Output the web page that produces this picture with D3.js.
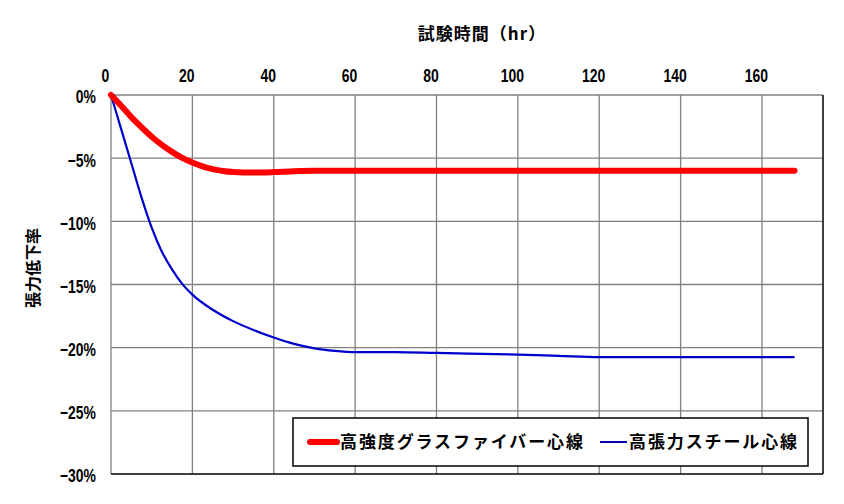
<!DOCTYPE html>
<html><head><meta charset="utf-8">
<script src="https://cdn.jsdelivr.net/npm/d3@7/dist/d3.min.js"></script>
<style>
body{margin:0;background:#fff;}
svg{display:block;}
.tick text{font-family:"Liberation Sans",Arial,sans-serif;font-size:17px;fill:#000;font-weight:bold;}
.jp{font-family:"Noto Sans CJK JP",sans-serif;font-weight:bold;fill:#000;}
</style></head>
<body>
<svg id="c" width="844" height="504"></svg>
<script>
const xTicks = [0,20,40,60,80,100,120,140,160];
const yTicks = [0,-5,-10,-15,-20,-25,-30];
const seriesNames = ["高強度グラスファイバー心線","高張力スチール心線"];
const xTitle = "試験時間（hr）";
const yTitle = "張力低下率";

const glassHours = [0,2.5,5,7.5,10,12.5,15,17.5,20,22.5,25,27.5,30,35,40,45,50,60,80,100,120,140,160,168];
const glassValues = [0,-0.85,-1.75,-2.55,-3.3,-3.95,-4.5,-4.98,-5.35,-5.65,-5.87,-6.02,-6.1,-6.14,-6.1,-6.03,-6.0,-6.0,-6.0,-6.0,-6.0,-6.0,-6.0,-6.0];
const steelHours = [0,2.5,5,7.5,10,12.5,15,17.5,20,25,30,35,40,45,50,55,60,70,80,100,110,120,140,168];
const steelValues = [0,-2.7,-5.4,-8.1,-10.5,-12.4,-13.8,-14.95,-15.8,-17.0,-17.9,-18.6,-19.2,-19.7,-20.05,-20.25,-20.35,-20.35,-20.42,-20.55,-20.65,-20.75,-20.75,-20.75];

const svg = d3.select("#c");
const L=111, R=823, T=95, B=474;
const x = d3.scaleLinear().domain([0,175]).range([L,R]);
const y = d3.scaleLinear().domain([0,-30]).range([T,B]);

// grid
const g = svg.append("g");
g.selectAll("line.v").data(xTicks.slice(1)).join("line")
  .attr("x1",d=>x(d)).attr("x2",d=>x(d)).attr("y1",T).attr("y2",B)
  .attr("stroke","#808080").attr("stroke-width",1.3);
g.selectAll("line.h").data(yTicks.slice(0,-1)).join("line")
  .attr("x1",L).attr("x2",R).attr("y1",d=>y(d)).attr("y2",d=>y(d))
  .attr("stroke","#808080").attr("stroke-width",1.3);
g.append("line").attr("x1",L).attr("x2",L).attr("y1",T).attr("y2",B).attr("stroke","#808080").attr("stroke-width",1.3);
g.append("line").attr("x1",L).attr("x2",R).attr("y1",B).attr("y2",B).attr("stroke","#000").attr("stroke-width",1.5);
g.append("line").attr("x1",R).attr("x2",R).attr("y1",T).attr("y2",B).attr("stroke","#000").attr("stroke-width",1.5);

// axes (labels only)
const xAxis = d3.axisTop(x).tickValues(xTicks).tickSize(0).tickPadding(0).tickFormat(d3.format("d"));
const xa = svg.append("g").attr("transform",`translate(-6,${T-13})`).call(xAxis);
xa.select(".domain").remove();
xa.selectAll(".tick text").attr("transform","scale(0.82,1.08)");
const yAxis = d3.axisLeft(y).tickValues(yTicks).tickSize(0).tickPadding(0).tickFormat(d=>(d<0?"−"+(-d):d)+"%");
const ya = svg.append("g").attr("transform",`translate(${L-15},2)`).call(yAxis);
ya.select(".domain").remove();
ya.selectAll(".tick text").attr("transform","scale(0.82,1.08)");

// lines
const line = d3.line().x(d=>x(d[0])).y(d=>y(d[1])).curve(d3.curveMonotoneX);
svg.append("path").datum(steelHours.map((h,i)=>[h,steelValues[i]]))
  .attr("d",line).attr("fill","none").attr("stroke","#0000cc").attr("stroke-width",2.2);
svg.append("path").datum(glassHours.map((h,i)=>[h,glassValues[i]]))
  .attr("d",line).attr("fill","none").attr("stroke","#ff0000").attr("stroke-width",6).attr("stroke-linecap","round");

// titles
svg.append("text").attr("class","jp").attr("x",482).attr("y",40).attr("text-anchor","middle")
  .attr("font-size",17).attr("letter-spacing",1).text(xTitle);
svg.append("text").attr("class","jp").attr("transform","translate(39,268) rotate(-90)")
  .attr("text-anchor","middle").attr("font-size",16).text(yTitle);

// legend
const lg = svg.append("g");
lg.append("rect").attr("x",293).attr("y",418).attr("width",515).attr("height",48)
  .attr("fill","#fff").attr("stroke","#000").attr("stroke-width",1.5);
lg.append("line").attr("x1",310).attr("x2",337).attr("y1",442).attr("y2",442)
  .attr("stroke","#ff0000").attr("stroke-width",6).attr("stroke-linecap","round");
lg.append("text").attr("class","jp").attr("x",340).attr("y",448).attr("font-size",17)
  .attr("textLength",243).attr("lengthAdjust","spacing").text(seriesNames[0]);
lg.append("line").attr("x1",600).attr("x2",627).attr("y1",442).attr("y2",442)
  .attr("stroke","#0000aa").attr("stroke-width",2);
lg.append("text").attr("class","jp").attr("x",629).attr("y",448).attr("font-size",17)
  .attr("textLength",168).attr("lengthAdjust","spacing").text(seriesNames[1]);
</script>
</body></html>
